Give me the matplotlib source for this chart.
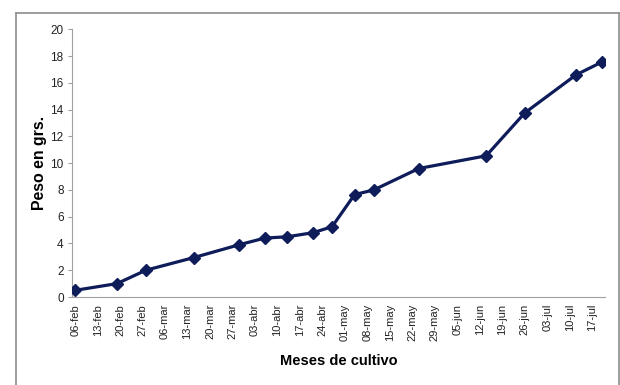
import datetime

import matplotlib
matplotlib.use("Agg")
import matplotlib.pyplot as plt
from matplotlib.lines import Line2D

# sampling dates (year is arbitrary) and weight in grams
fechas = ["2011-02-06", "2011-02-19", "2011-02-28", "2011-03-15", "2011-03-29",
          "2011-04-06", "2011-04-13", "2011-04-21", "2011-04-27", "2011-05-04",
          "2011-05-10", "2011-05-24", "2011-06-14", "2011-06-26", "2011-07-12",
          "2011-07-20"]
peso = [0.5, 1.0, 2.0, 2.95, 3.9, 4.4, 4.5, 4.8, 5.25, 7.65, 8.0, 9.6, 10.55,
        13.75, 16.6, 17.55]

meses = ["ene", "feb", "mar", "abr", "may", "jun", "jul", "ago", "sep", "oct", "nov", "dic"]
primer_tick = datetime.date(2011, 2, 6)
n_ticks = 24

x = [datetime.datetime.strptime(f, "%Y-%m-%d") for f in fechas]
ticks = [primer_tick + datetime.timedelta(days=7 * i) for i in range(n_ticks)]
tick_labels = [f"{t.day:02d}-{meses[t.month - 1]}" for t in ticks]

navy = "#0e1c5a"
grey = "#a0a0a0"

fig = plt.figure(figsize=(6.2, 3.85), dpi=100)
ax = fig.add_axes([72 / 620, 1 - 297 / 385, (605 - 72) / 620, (297 - 29.3) / 385])

ax.plot(x, peso, color=navy, lw=2.3, marker="D", markersize=6.5, zorder=3)

ax.set_xlim(primer_tick - datetime.timedelta(days=1.15), primer_tick + datetime.timedelta(days=165.1))
ax.set_ylim(0, 20)
ax.set_yticks(range(0, 21, 2))
ax.set_xticks(ticks)
ax.set_xticklabels(tick_labels, rotation=90, fontsize=8, family=["Liberation Sans"], color="#222222")
for lbl in ax.get_yticklabels():
	lbl.set_family(["Liberation Sans Narrow", "Liberation Sans"])
	lbl.set_fontsize(8.5)
	lbl.set_color("#222222")

for side in ["top", "right"]:
	ax.spines[side].set_visible(False)
ax.spines["left"].set_color(grey)
ax.spines["bottom"].set_color(grey)
ax.tick_params(axis="y", length=3, color=grey, pad=3)
ax.tick_params(axis="x", length=0, pad=5)

ax.set_ylabel("Peso en grs.", fontsize=11.4, fontweight="bold", family=["Liberation Sans"])
ax.yaxis.set_label_coords(-0.047, 0.5)
ax.set_xlabel("Meses de cultivo", fontsize=10.5, fontweight="bold",
              family=["Liberation Sans Narrow", "Liberation Sans"])
ax.xaxis.set_label_coords(0.5, -0.213)

# chart area border (bottom edge falls outside the image)
borde = dict(color="#8c8c8c", lw=1.2, transform=fig.transFigure)
l, r, t = 16 / 620, 619 / 620, 1 - 12.7 / 385
fig.add_artist(Line2D([l, l], [0, t], **borde))
fig.add_artist(Line2D([l, r], [t, t], **borde))
fig.add_artist(Line2D([r, r], [t, 0], **borde))

fig.savefig("out.png", dpi=100)
